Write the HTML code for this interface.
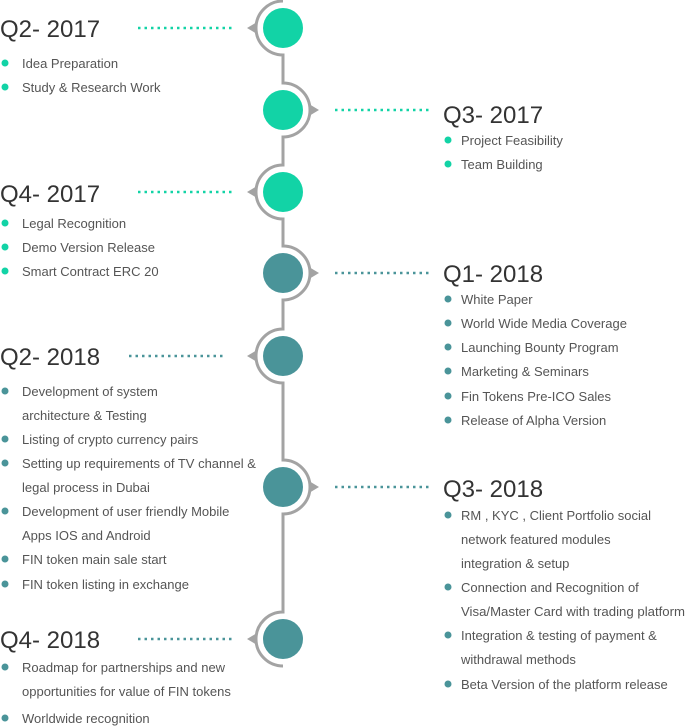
<!DOCTYPE html>
<html><head><meta charset="utf-8"><style>
html,body{margin:0;padding:0;background:#fff;}
svg{display:block;}
.h{font-family:"Liberation Sans",sans-serif;font-size:24px;fill:#333;}
.t{font-family:"Liberation Sans",sans-serif;font-size:13px;fill:#555;}
</style></head><body>
<svg width="686" height="727" viewBox="0 0 686 727" xmlns="http://www.w3.org/2000/svg">
<g fill="none" stroke="#a3a3a3" stroke-width="3">
<path d="M283,1 A27,27 0 0 0 283,55 L283,83 A27,27 0 0 1 283,137 L283,165 A27,27 0 0 0 283,219 L283,246 A27,27 0 0 1 283,300 L283,329 A27,27 0 0 0 283,383 L283,460 A27,27 0 0 1 283,514 L283,612 A27,27 0 0 0 283,666"/>
</g>
<g fill="#a3a3a3">
<polygon points="247,28 257,22 257,34"/>
<polygon points="319,110 309,104 309,116"/>
<polygon points="247,192 257,186 257,198"/>
<polygon points="319,273 309,267 309,279"/>
<polygon points="247,356 257,350 257,362"/>
<polygon points="319,487 309,481 309,493"/>
<polygon points="247,639 257,633 257,645"/>
</g>
<g fill="#12d3a6">
<circle cx="283" cy="28" r="20"/><circle cx="283" cy="110" r="20"/><circle cx="283" cy="192" r="20"/>
</g>
<g fill="#4a9499">
<circle cx="283" cy="273" r="20"/><circle cx="283" cy="356" r="20"/><circle cx="283" cy="487" r="20"/><circle cx="283" cy="639" r="20"/>
</g>
<g stroke-width="2.5" stroke-dasharray="2.5 4">
<line x1="138" y1="28" x2="233" y2="28" stroke="#12d3a6"/>
<line x1="335" y1="110" x2="430" y2="110" stroke="#12d3a6"/>
<line x1="138" y1="192" x2="233" y2="192" stroke="#12d3a6"/>
<line x1="335" y1="273" x2="430" y2="273" stroke="#4a9499"/>
<line x1="129" y1="356" x2="224" y2="356" stroke="#4a9499"/>
<line x1="335" y1="487" x2="430" y2="487" stroke="#4a9499"/>
<line x1="138" y1="639" x2="233" y2="639" stroke="#4a9499"/>
</g>
<text class="h" x="0" y="37">Q2- 2017</text>
<text class="h" x="443" y="123">Q3- 2017</text>
<text class="h" x="0" y="202">Q4- 2017</text>
<text class="h" x="443" y="282">Q1- 2018</text>
<text class="h" x="0" y="365">Q2- 2018</text>
<text class="h" x="443" y="497">Q3- 2018</text>
<text class="h" x="0" y="648">Q4- 2018</text>
<g fill="#12d3a6">
<circle cx="5" cy="63" r="3.5"/><circle cx="5" cy="87" r="3.5"/>
<circle cx="448" cy="140" r="3.5"/><circle cx="448" cy="164" r="3.5"/>
<circle cx="5" cy="223" r="3.5"/><circle cx="5" cy="247" r="3.5"/><circle cx="5" cy="271" r="3.5"/>
</g>
<g fill="#4a9499">
<circle cx="448" cy="299" r="3.5"/><circle cx="448" cy="323" r="3.5"/><circle cx="448" cy="347" r="3.5"/><circle cx="448" cy="371" r="3.5"/><circle cx="448" cy="396" r="3.5"/><circle cx="448" cy="420" r="3.5"/>
<circle cx="5" cy="391" r="3.5"/><circle cx="5" cy="439" r="3.5"/><circle cx="5" cy="463" r="3.5"/><circle cx="5" cy="511" r="3.5"/><circle cx="5" cy="559" r="3.5"/><circle cx="5" cy="584" r="3.5"/>
<circle cx="448" cy="515" r="3.5"/><circle cx="448" cy="587" r="3.5"/><circle cx="448" cy="635" r="3.5"/><circle cx="448" cy="684" r="3.5"/>
<circle cx="5" cy="667" r="3.5"/><circle cx="5" cy="718" r="3.5"/>
</g>
<g class="t">
<text class="t" x="22" y="68">Idea Preparation</text>
<text class="t" x="22" y="92">Study &amp; Research Work</text>
<text class="t" x="461" y="145">Project Feasibility</text>
<text class="t" x="461" y="169">Team Building</text>
<text class="t" x="22" y="228">Legal Recognition</text>
<text class="t" x="22" y="252">Demo Version Release</text>
<text class="t" x="22" y="276">Smart Contract ERC 20</text>
<text class="t" x="461" y="304">White Paper</text>
<text class="t" x="461" y="328">World Wide Media Coverage</text>
<text class="t" x="461" y="352">Launching Bounty Program</text>
<text class="t" x="461" y="376">Marketing &amp; Seminars</text>
<text class="t" x="461" y="401">Fin Tokens Pre-ICO Sales</text>
<text class="t" x="461" y="425">Release of Alpha Version</text>
<text class="t" x="22" y="396">Development of system</text>
<text class="t" x="22" y="420">architecture &amp; Testing</text>
<text class="t" x="22" y="444">Listing of crypto currency pairs</text>
<text class="t" x="22" y="468">Setting up requirements of TV channel &amp;</text>
<text class="t" x="22" y="492">legal process in Dubai</text>
<text class="t" x="22" y="516">Development of user friendly Mobile</text>
<text class="t" x="22" y="540">Apps IOS and Android</text>
<text class="t" x="22" y="564">FIN token main sale start</text>
<text class="t" x="22" y="589">FIN token listing in exchange</text>
<text class="t" x="461" y="520">RM , KYC , Client Portfolio social</text>
<text class="t" x="461" y="544">network featured modules</text>
<text class="t" x="461" y="568">integration &amp; setup</text>
<text class="t" x="461" y="592">Connection and Recognition of</text>
<text class="t" x="461" y="616" textLength="224" lengthAdjust="spacingAndGlyphs">Visa/Master Card with trading platform</text>
<text class="t" x="461" y="640">Integration &amp; testing of payment &amp;</text>
<text class="t" x="461" y="664">withdrawal methods</text>
<text class="t" x="461" y="689">Beta Version of the platform release</text>
<text class="t" x="22" y="672">Roadmap  for partnerships and new</text>
<text class="t" x="22" y="696">opportunities for value of FIN tokens</text>
<text class="t" x="22" y="723">Worldwide recognition</text>
</g>
</svg>
</body></html>
